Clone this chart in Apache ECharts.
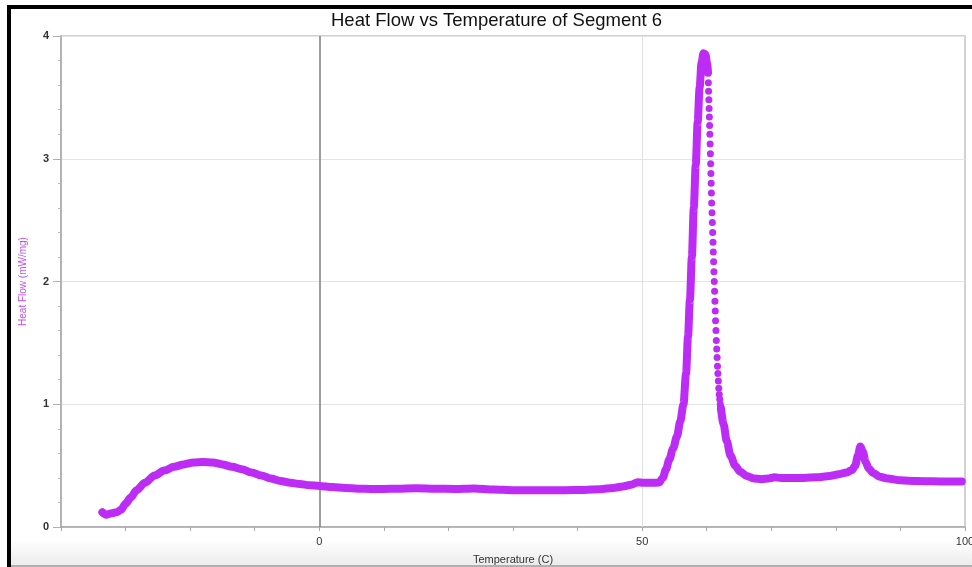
<!DOCTYPE html>
<html>
<head>
<meta charset="utf-8">
<script src="https://cdn.jsdelivr.net/npm/echarts@6/dist/echarts.min.js"></script>
<style>
html,body{margin:0;padding:0;background:#fff;}
#chart{width:972px;height:567px;}
</style>
</head>
<body>
<div id="chart"></div>
<script>
// ---- data ----
const titleText = 'Heat Flow vs Temperature of Segment 6';
const xName = 'Temperature (C)';
const yName = 'Heat Flow (mW/mg)';
const xLabelsShown = [0, 50, 100];

// solid part of the trace up to the top of the melting peak
const tempA = [-33.6, -33.0, -32.3, -31.4, -30.7, -30.0, -29.2, -28.3, -27.0, -25.5, -24.0, -22.5, -21.0, -19.5, -18.0, -16.5, -15.0, -13.5, -12.0, -10.5, -9.0, -7.5, -6.0, -4.5, -3.0, -1.5, 0.0, 2.0, 4.0, 6.0, 8.0, 10.0, 12.0, 15.0, 18.0, 21.0, 24.0, 27.0, 30.0, 34.0, 38.0, 41.0, 43.5, 45.5, 47.0, 48.3, 49.3, 50.2, 51.5, 52.6, 53.2, 53.7, 54.2, 54.8, 55.4, 55.9, 56.4, 56.8, 57.1, 57.4, 57.7, 58.0, 58.3, 58.6, 58.9, 59.2, 59.5, 59.8, 60.05, 60.2];
const flowA = [0.12, 0.10, 0.11, 0.12, 0.14, 0.19, 0.24, 0.30, 0.36, 0.42, 0.46, 0.49, 0.51, 0.525, 0.53, 0.525, 0.51, 0.49, 0.47, 0.445, 0.42, 0.395, 0.375, 0.36, 0.35, 0.34, 0.335, 0.325, 0.318, 0.312, 0.31, 0.31, 0.312, 0.315, 0.312, 0.31, 0.314, 0.305, 0.30, 0.30, 0.30, 0.302, 0.308, 0.318, 0.33, 0.345, 0.365, 0.36, 0.36, 0.362, 0.40, 0.47, 0.55, 0.64, 0.74, 0.86, 1.0, 1.25, 1.55, 1.85, 2.2, 2.6, 2.95, 3.3, 3.58, 3.78, 3.86, 3.85, 3.78, 3.70];

// sparse dots on the steep falling flank of the peak
const tempFlank = [60.25, 60.29, 60.33, 60.37, 60.41, 60.45, 60.49, 60.53, 60.57, 60.61, 60.65, 60.69, 60.73, 60.77, 60.82, 60.87, 60.92, 60.97, 61.02, 61.07, 61.12, 61.17, 61.22, 61.27, 61.32, 61.37, 61.43, 61.49, 61.55, 61.61, 61.67, 61.73, 61.80, 61.87, 61.94, 62.02, 62.10, 62.18];
const flowFlank = [3.62, 3.55, 3.48, 3.41, 3.34, 3.27, 3.20, 3.12, 3.04, 2.96, 2.88, 2.80, 2.72, 2.64, 2.56, 2.48, 2.40, 2.32, 2.24, 2.16, 2.08, 2.00, 1.92, 1.84, 1.76, 1.68, 1.60, 1.52, 1.45, 1.38, 1.31, 1.25, 1.19, 1.13, 1.08, 1.04, 1.00, 0.96];

// solid part of the trace after the flank
const tempB = [62.2, 62.6, 63.1, 63.7, 64.4, 65.2, 66.2, 67.3, 68.5, 69.6, 70.5, 71.5, 73.0, 75.0, 77.0, 79.0, 80.5, 81.7, 82.5, 83.0, 83.4, 83.8, 84.2, 84.6, 85.1, 85.8, 86.8, 88.0, 90.0, 92.5, 95.0, 97.5, 99.5];
const flowB = [0.97, 0.84, 0.70, 0.58, 0.50, 0.45, 0.415, 0.395, 0.39, 0.395, 0.405, 0.40, 0.40, 0.40, 0.405, 0.415, 0.43, 0.445, 0.465, 0.50, 0.58, 0.655, 0.61, 0.53, 0.475, 0.44, 0.41, 0.395, 0.38, 0.375, 0.372, 0.37, 0.37];

const pairs = (xs, ys) => xs.map((x, i) => [x, ys[i]]);

const purple = '#bd2cf4';
const font = 'Liberation Sans, Arial, sans-serif';

const chart = echarts.init(document.getElementById('chart'), null, {renderer: 'canvas'});
chart.setOption({
  backgroundColor: '#ffffff',
  animation: false,
  title: {
    text: titleText,
    left: 326,
    top: 6,
    textStyle: {fontFamily: font, fontSize: 18.5, fontWeight: 'normal', color: '#111'}
  },
  graphic: [
    {type: 'rect', z: -10, silent: true, shape: {x: 11, y: 540, width: 961, height: 26},
     style: {fill: new echarts.graphic.LinearGradient(0, 0, 0, 1, [{offset: 0, color: '#ffffff'}, {offset: 1, color: '#ebebeb'}])}},
    {type: 'rect', z: 100, silent: true, shape: {x: 11, y: 565, width: 961, height: 2}, style: {fill: '#b0b0b0'}},
    {type: 'rect', z: 100, silent: true, shape: {x: 7, y: 5, width: 965, height: 4}, style: {fill: '#000'}},
    {type: 'rect', z: 100, silent: true, shape: {x: 7, y: 5, width: 4, height: 562}, style: {fill: '#000'}}
  ],
  grid: {
    left: 61, top: 36, right: 7, bottom: 40,
    outerBoundsMode: 'none', containLabel: false,
    show: true, borderColor: '#c2c2c2', borderWidth: 1.5, backgroundColor: 'transparent'
  },
  xAxis: {
    type: 'value',
    min: -40, max: 100, interval: 10,
    name: xName, nameLocation: 'middle', nameGap: 27,
    nameTextStyle: {fontFamily: font, fontSize: 11, color: '#333'},
    axisLine: {show: true, onZero: false, lineStyle: {color: '#a8a8a8', width: 1.5}},
    axisTick: {show: true, length: 4, lineStyle: {color: '#a8a8a8'}},
    axisLabel: {
      margin: 9, color: '#333', fontSize: 11, fontFamily: font,
      formatter: v => (xLabelsShown.indexOf(v) >= 0 ? String(v) : '')
    },
    splitLine: {show: false}
  },
  yAxis: {
    type: 'value',
    min: 0, max: 4, interval: 1,
    name: yName, nameLocation: 'middle', nameGap: 33, nameRotate: 90,
    nameTextStyle: {fontFamily: font, fontSize: 10, color: '#c24ff0'},
    axisLine: {show: true, onZero: false, lineStyle: {color: '#a8a8a8', width: 1.5}},
    axisTick: {show: true, length: 8, lineStyle: {color: '#b0b0b0'}},
    minorTick: {show: true, splitNumber: 5, length: 3, lineStyle: {color: '#b8b8b8'}},
    axisLabel: {margin: 12, color: '#333', fontSize: 11, fontWeight: 'bold', fontFamily: font},
    splitLine: {show: true, lineStyle: {color: '#e4e4e4', width: 1}}
  },
  series: [
    {
      type: 'line', data: pairs(tempA, flowA), showSymbol: false, smooth: 0.3, smoothMonotone: 'x',
      lineStyle: {color: purple, width: 8, cap: 'round', join: 'round'}, z: 3,
      markLine: {
        silent: true, symbol: 'none', label: {show: false}, z: 1,
        data: [
          {xAxis: 0, lineStyle: {color: '#7c7c7c', width: 1.5, type: 'solid'}},
          {xAxis: 50, lineStyle: {color: '#e0e0e0', width: 1, type: 'solid'}}
        ]
      }
    },
    {
      type: 'scatter', data: pairs(tempFlank, flowFlank), symbol: 'circle', symbolSize: 7,
      itemStyle: {color: purple, opacity: 1}, z: 3
    },
    {
      type: 'line', data: pairs(tempB, flowB), showSymbol: false, smooth: 0.3, smoothMonotone: 'x',
      lineStyle: {color: purple, width: 8, cap: 'round', join: 'round'}, z: 3
    }
  ]
});
</script>
</body>
</html>
